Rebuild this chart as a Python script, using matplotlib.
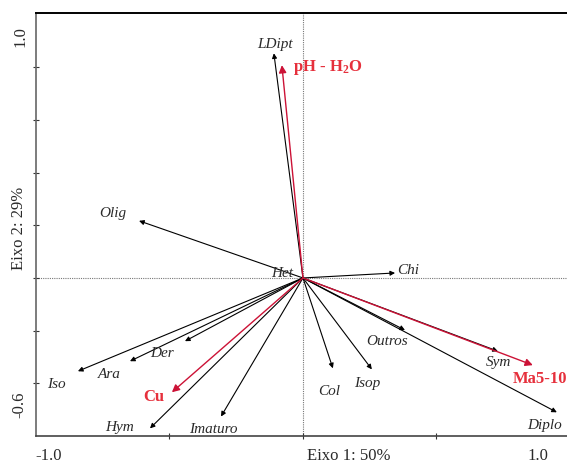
import matplotlib.pyplot as plt

plt.rcParams['font.family'] = ['Liberation Serif', 'DejaVu Serif']
plt.rcParams['mathtext.fontset'] = 'custom'
plt.rcParams['mathtext.rm'] = 'Liberation Serif:bold'
plt.rcParams['mathtext.default'] = 'rm'

# species scores (arrow tips)
species = ['LDipt', 'Olig', 'Het', 'Chi', 'Outros', 'Sym', 'Diplo', 'Isop',
           'Col', 'Imaturo', 'Hym', 'Iso', 'Ara', 'Der']
sp_x = [-0.109, -0.614, -0.01, 0.345, 0.382, 0.730, 0.951, 0.258,
        0.112, -0.307, -0.573, -0.843, -0.648, -0.442]
sp_y = [0.853, 0.217, 0.005, 0.019, -0.198, -0.278, -0.510, -0.347,
        -0.343, -0.526, -0.571, -0.354, -0.316, -0.240]

# environmental variables
env = ['pH - H$_2$O', 'Ma5-10', 'Cu']
env_x = [-0.079, 0.861, -0.491]
env_y = [0.808, -0.331, -0.434]

# label offsets in pixels (layout only)
sp_off = {'LDipt': (1, 10), 'Olig': (-26, 8), 'Het': (-18, 4), 'Chi': (13, 3),
          'Outros': (-18, -10), 'Sym': (1, -10), 'Diplo': (-12, -12),
          'Isop': (-5, -13), 'Col': (-4, -22), 'Imaturo': (-8, -12),
          'Hym': (-30, 2), 'Iso': (-22, -12), 'Ara': (-21, -12),
          'Der': (-23, -11)}
env_off = {'pH - H$_2$O': (11, -1, 'left'), 'Ma5-10': (7, -13, 'center'),
           'Cu': (-18, -4, 'center')}

red_line = '#cc1236'
red_text = '#e6303c'
txt = '#2a2a2a'

fig = plt.figure(figsize=(5.67, 4.64), dpi=100)
ax = fig.add_axes([36 / 567, 27 / 464, 531 / 567, 423 / 464])
ax.set_xlim(-1.0, 0.989)
ax.set_ylim(-0.6, 1.006)

ax.axhline(0, color='#777777', ls=(0, (1, 1)), lw=0.8, zorder=0)
ax.axvline(0, color='#777777', ls=(0, (1, 1)), lw=0.8, zorder=0)

for name, x, y in zip(species, sp_x, sp_y):
    if abs(x) + abs(y) > 0.05:
        ax.annotate('', xy=(x, y), xytext=(0, 0),
                    arrowprops=dict(arrowstyle='-|>', color='black', lw=0.8,
                                    mutation_scale=7, shrinkA=0, shrinkB=0))
    dx, dy = sp_off[name]
    ax.annotate(name, xy=(x, y), xytext=(dx, dy), textcoords='offset pixels',
                ha='center', va='center', style='italic', fontsize=11,
                color=txt)

for name, x, y in zip(env, env_x, env_y):
    ax.annotate('', xy=(x, y), xytext=(0, 0),
                arrowprops=dict(arrowstyle='-|>', color=red_line, lw=1.0,
                                mutation_scale=11, shrinkA=0, shrinkB=0))
    dx, dy, ha = env_off[name]
    ax.annotate(name, xy=(x, y), xytext=(dx, dy), textcoords='offset pixels',
                ha=ha, va='center', fontweight='bold', fontsize=12,
                color=red_text)

ax.spines['right'].set_visible(False)
ax.spines['top'].set_color('black')
ax.spines['top'].set_linewidth(1.4)
ax.spines['left'].set_color('#666666')
ax.spines['left'].set_linewidth(1.2)
ax.spines['bottom'].set_color('#444444')
ax.spines['bottom'].set_linewidth(1.2)

ax.set_xticks([-0.5, 0, 0.5])
ax.set_yticks([-0.4, -0.2, 0, 0.2, 0.4, 0.6, 0.8])
ax.tick_params(direction='inout', length=5, width=0.8, colors='#333333',
               labelbottom=False, labelleft=False)

# axis end labels (figure pixel positions)
W, H = 567, 464
fig.text(49 / W, 1 - 456 / H, '-1.0', ha='center', va='center',
         fontsize=12, color=txt)
fig.text(538 / W, 1 - 456 / H, '1.0', ha='center', va='center',
         fontsize=12, color=txt)
fig.text(349 / W, 1 - 456 / H, 'Eixo 1: 50%', ha='center', va='center',
         fontsize=12, color=txt)
fig.text(20 / W, 1 - 37 / H, '1.0', rotation=90, ha='center', va='center',
         fontsize=12, color=txt)
fig.text(19 / W, 1 - 228 / H, 'Eixo 2: 29%', rotation=90, ha='center',
         va='center', fontsize=12, color=txt)
fig.text(19 / W, 1 - 405 / H, '-0.6', rotation=90, ha='center',
         va='center', fontsize=12, color=txt)

fig.savefig('out.png', dpi=100)
